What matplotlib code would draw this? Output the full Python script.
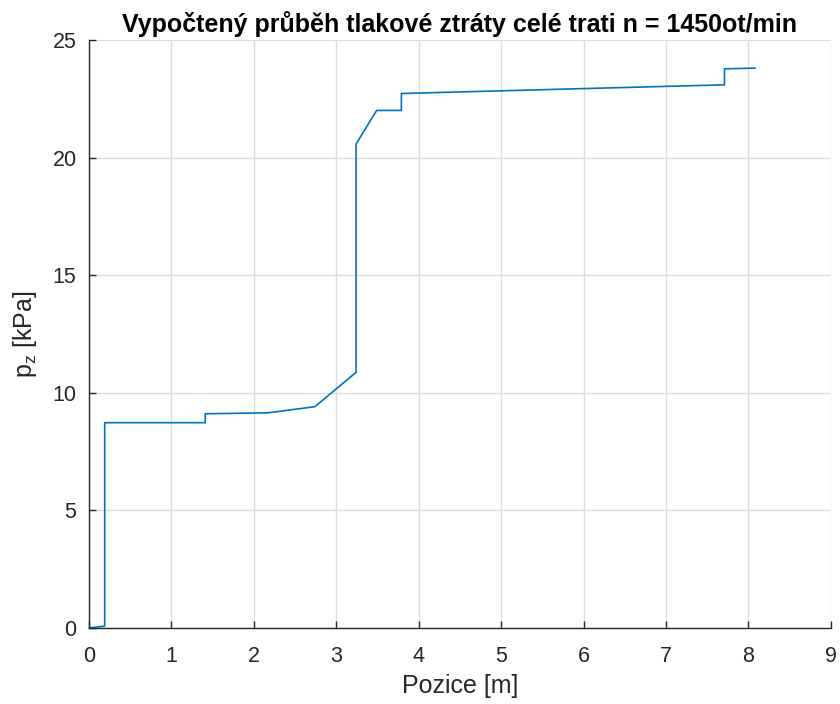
import matplotlib
matplotlib.use("Agg")
import matplotlib.pyplot as plt

# position [m] and pressure loss [kPa]
pozice = [0.0, 0.19, 0.19, 1.41, 1.41, 2.17, 2.74, 3.24, 3.24, 3.49, 3.79, 3.79, 7.71, 7.71, 8.08]
pz = [0.0, 0.08, 8.73, 8.73, 9.11, 9.15, 9.41, 10.87, 20.58, 22.01, 22.01, 22.73, 23.10, 23.78, 23.81]

xticks = list(range(0, 10))
yticks = [0, 5, 10, 15, 20, 25]

plt.rcParams['font.family'] = ['Liberation Sans', 'DejaVu Sans']

fig = plt.figure(figsize=(8.4, 7.04), dpi=100)
ax = fig.add_axes([0.106, 0.108, 0.883, 0.835])

ax.plot(pozice, pz, color='#0072BD', linewidth=1.2)

ax.set_xlim(0, 9)
ax.set_ylim(0, 25)
ax.set_xticks(xticks)
ax.set_yticks(yticks)
ax.grid(True, color='#dcdcdc', linewidth=1.0)
ax.set_axisbelow(True)

for side in ['top', 'right']:
    ax.spines[side].set_visible(False)
for side in ['left', 'bottom']:
    ax.spines[side].set_color('#262626')
    ax.spines[side].set_linewidth(1.0)

ax.tick_params(direction='in', length=5, width=1.0, colors='#262626', labelsize=15.5)
ax.tick_params(axis='x', pad=13)
ax.tick_params(axis='y', pad=9)

ax.set_xlabel('Pozice [m]', fontsize=18, color='#262626', labelpad=5)
ax.set_ylabel(r'$\mathregular{p_z}$ [kPa]', fontsize=18, color='#262626', labelpad=10)
ax.set_title('Vypočtený průběh tlakové ztráty celé trati n = 1450ot/min',
             fontsize=18, fontweight='bold', color='black', pad=6)

fig.savefig('out.png', dpi=100)
